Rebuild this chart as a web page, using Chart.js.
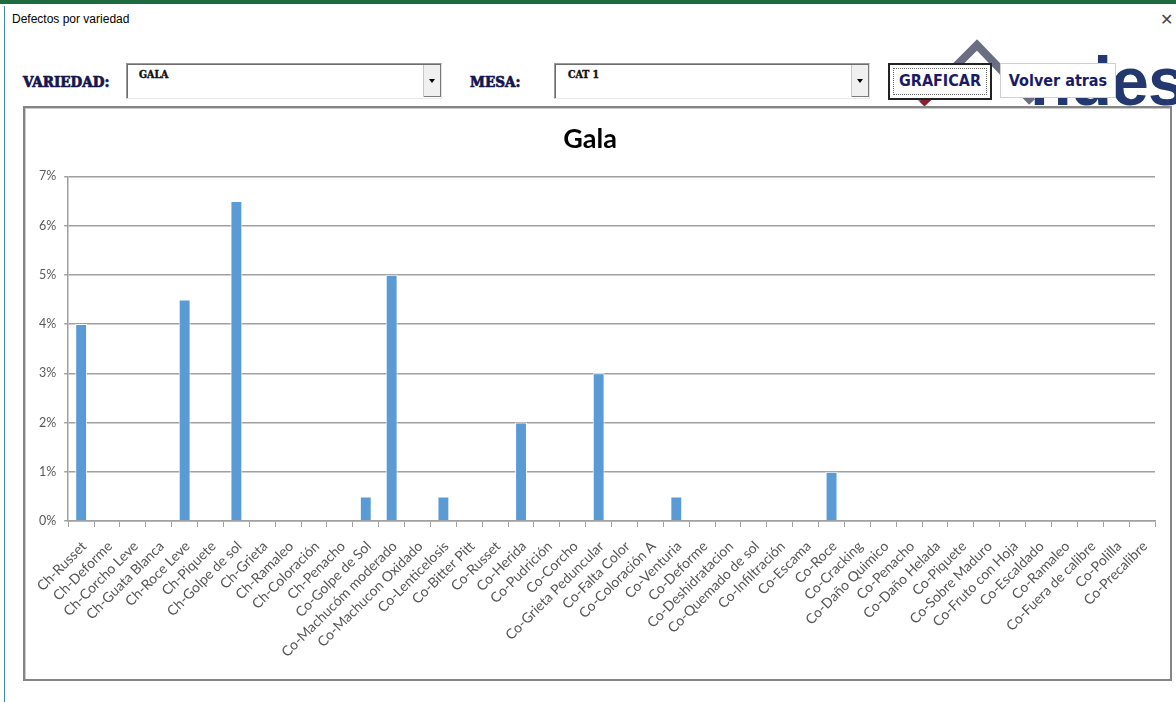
<!DOCTYPE html>
<html>
<head>
<meta charset="utf-8">
<script src="https://cdn.jsdelivr.net/npm/chart.js@4/dist/chart.umd.min.js"></script>
<style>
  html, body { margin:0; padding:0; width:1176px; height:702px; overflow:hidden; background:#fff; position:relative; }
  .abs { position:absolute; }
  #topline { left:0; top:0; width:1176px; height:4px; background:#1e6b3f; }
  #leftline { left:4px; top:6px; width:1px; height:696px; background:#3f86be; }
  #wtitle { left:12px; top:12px; font:12px "Liberation Sans", Arial, sans-serif; color:#000; }
  #close { left:1160px; top:10px; font:16px "DejaVu Sans", sans-serif; color:#444; }
  .lbl { font-family:"DejaVu Serif Condensed","DejaVu Serif",serif; font-weight:bold; color:#16164e; font-size:15px; -webkit-text-stroke:0.7px #16164e; }
  .combo { background:#fff; border:1px solid #9a9a9a; border-right-color:#e0e0e0; border-bottom-color:#e8e8e8; box-shadow: inset 1px 1px 0 #6d6d6d; }
  .ctext { font-family:"DejaVu Serif Condensed","DejaVu Serif",serif; font-weight:bold; font-size:10.5px; color:#111; -webkit-text-stroke:0.4px #111; }
  .arrow { background:#f0f0f0; border-left:1px solid #c8c8c8; box-shadow: inset -1px -1px 0 #7a7a7a; }
  .arrow span { position:absolute; left:5px; top:14px; width:0; height:0; border-left:3.5px solid transparent; border-right:3.5px solid transparent; border-top:4px solid #000; }
  .btn { font-family:"DejaVu Sans Condensed","DejaVu Sans",sans-serif; font-weight:bold; color:#1a1a66; font-size:16px; text-align:center; }
  #frame { left:23px; top:106px; width:1145px; height:571px; border:2px solid #858585; box-shadow: inset 1px 1px 0 #c9c9c9; background:#fff; }
</style>
</head>
<body>
<div id="topline" class="abs"></div>
<div id="leftline" class="abs"></div>
<div id="wtitle" class="abs">Defectos por variedad</div>
<div id="close" class="abs">✕</div>

<!-- logo (partially hidden behind buttons and chart) -->
<svg class="abs" style="left:900px;top:30px" width="276" height="80" viewBox="0 0 276 80">
  <polyline points="20,72 77,15 132,72" fill="none" stroke="#6a6e80" stroke-width="8" stroke-linejoin="miter"/>
  <polyline points="22,74 50,48" fill="none" stroke="#8c1d2b" stroke-width="7"/>
  <text x="130" y="75" font-family="Liberation Sans, Arial, sans-serif" font-weight="bold" font-size="68" fill="#22386e" letter-spacing="-1">ndes</text>
</svg>

<div class="abs lbl" style="left:23px;top:73px;">VARIEDAD:</div>
<div class="abs combo" style="left:126px;top:63px;width:314px;height:34px;">
  <div class="abs ctext" style="left:12px;top:4px;">GALA</div>
  <div class="abs arrow" style="left:296px;top:1px;width:17px;height:32px;"><span></span></div>
</div>
<div class="abs lbl" style="left:470px;top:73px;">MESA:</div>
<div class="abs combo" style="left:554px;top:63px;width:314px;height:34px;">
  <div class="abs ctext" style="left:13px;top:4px;">CAT 1</div>
  <div class="abs arrow" style="left:296px;top:1px;width:17px;height:32px;"><span></span></div>
</div>

<div class="abs btn" style="left:888px;top:63px;width:100px;height:33px;border:2px solid #222;background:#fff;">
  <div class="abs" style="left:3px;top:3px;width:92px;height:25px;border:1px dotted #666;"></div>
  <div class="abs" style="left:0;top:6px;width:100px;">GRAFICAR</div>
</div>
<div class="abs btn" style="left:1000px;top:63px;width:114px;height:33px;border:1px solid #d0d0d0;background:#fff;">
  <div class="abs" style="left:0;top:7px;width:114px;">Volver atras</div>
</div>

<div id="frame" class="abs"></div>
<canvas id="c" class="abs" width="1143" height="569" style="left:25px;top:108px;"></canvas>

<script>
const categories = [
  "Ch-Russet","Ch-Deforme","Ch-Corcho Leve","Ch-Guata Blanca","Ch-Roce Leve","Ch-Piquete",
  "Ch-Golpe de sol","Ch-Grieta","Ch-Ramaleo","Ch-Coloración","Ch-Penacho","Co-Golpe de Sol",
  "Co-Machucóm moderado","Co-Machucon Oxidado","Co-Lenticelosis","Co-Bitter Pitt","Co-Russet",
  "Co-Herida","Co-Pudrición","Co-Corcho","Co-Grieta Peduncular","Co-Falta Color","Co-Coloración A",
  "Co-Venturia","Co-Deforme","Co-Deshidratacion","Co-Quemado de sol","Co-Infiltración","Co-Escama",
  "Co-Roce","Co-Cracking","Co-Daño Quimico","Co-Penacho","Co-Daño Helada","Co-Piquete",
  "Co-Sobre Maduro","Co-Fruto con Hoja","Co-Escaldado","Co-Ramaleo","Co-Fuera de calibre",
  "Co-Polilla","Co-Precalibre"
];
// percent values
const valores = [
  4, 0, 0, 0, 4.5, 0,
  6.5, 0, 0, 0, 0, 0.5,
  5, 0, 0.5, 0, 0,
  2, 0, 0, 3, 0, 0,
  0.5, 0, 0, 0, 0, 0,
  1, 0, 0, 0, 0, 0,
  0, 0, 0, 0, 0,
  0, 0
];
const yTicks = [0, 1, 2, 3, 4, 5, 6, 7];
const titulo = "Gala";

const gridGray = '#a0a0a0';
new Chart(document.getElementById('c'), {
  type: 'bar',
  data: {
    labels: categories,
    datasets: [{
      data: valores,
      backgroundColor: '#5b9bd5',
      borderColor: '#ffffff',
      borderWidth: {top:1, left:1, right:1, bottom:0},
      barPercentage: 0.46,
      categoryPercentage: 1
    }]
  },
  options: {
    responsive: false,
    animation: false,
    devicePixelRatio: 1,
    layout: { padding: { left: 0, right: 13, top: 0, bottom: 0 } },
    plugins: {
      legend: { display: false },
      tooltip: { enabled: false },
      title: {
        display: true,
        text: titulo,
        color: '#000',
        font: { family: 'Lato', size: 27, weight: 'bold' },
        padding: { top: 15, bottom: 21 }
      }
    },
    scales: {
      x: {
        offset: true,
        grid: { display: true, drawOnChartArea: false, drawTicks: true, tickLength: 6, color: gridGray, offset: true },
        border: { display: true, color: gridGray, width: 1.5 },
        ticks: {
          autoSkip: false, minRotation: 45, maxRotation: 45,
          color: '#555555', font: { family: 'Lato', size: 14 }, padding: 11, labelOffset: 3
        },
        afterFit(scale) { scale.height = 156; }
      },
      y: {
        min: yTicks[0], max: yTicks[yTicks.length - 1],
        afterBuildTicks(scale) { scale.ticks = yTicks.map(v => ({ value: v })); },
        grid: { color: gridGray, lineWidth: 1.5, drawTicks: true, tickLength: 4 },
        border: { display: true, color: gridGray, width: 1.5 },
        ticks: {
          color: '#595959', font: { family: 'Lato', size: 12.5 }, padding: 8,
          callback: v => v + '%'
        },
        afterFit(scale) { scale.width = 42; }
      }
    }
  }
});
</script>
</body>
</html>
